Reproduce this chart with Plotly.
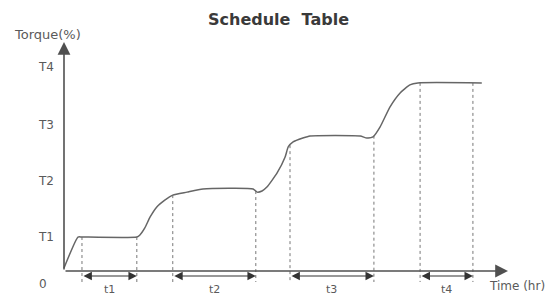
import numpy as np
import plotly.graph_objects as go

# ---- data (time units 0..100 along axis, torque units 0..100 along axis) ----
curve_time = [0, 3.15, 4.05, 16.4, 17.1, 18.2, 19.4, 20.9, 22.7, 24.5, 27.7, 31.3,
              42.6, 43.5, 44.6, 45.7, 48.0, 49.8, 50.5, 51.6, 53.8, 55.4, 66.7,
              68.2, 69.6, 71.2, 73.4, 75.7, 77.9, 79.7, 94.1]
curve_torque = [1.3, 14.9, 14.9, 14.9, 15.8, 18.9, 23.7, 28.1, 31.1, 33.3, 34.6, 36.0,
                36.0, 34.6, 35.1, 36.8, 43.0, 50.0, 54.4, 56.6, 58.3, 59.2, 59.2,
                58.3, 58.8, 63.2, 71.9, 78.1, 81.6, 82.5, 82.5]
interval_names = ["t1", "t2", "t3", "t4"]
interval_start = [4.05, 24.5, 50.9, 80.2]
interval_end = [16.4, 43.2, 69.8, 92.1]
torque_ticks = [14.9, 39.5, 64.0, 89.5]
torque_labels = ["T1", "T2", "T3", "T4"]

# ---- pixel mapping (page pixels; the page body adds an 8px margin) ----
OFF = 8
W, H = 555 - OFF, 296 - OFF
X0, XPX = 64, 4.44   # page px of time 0, px per unit
Y0, YPX = 271, 2.28  # page px of torque 0, px per unit
xr = [(OFF - X0) / XPX, (555 - X0) / XPX]
yr = [(Y0 - 296) / YPX, (Y0 - OFF) / YPX]

def px_x(p):
    return (p - X0) / XPX

def px_y(p):
    return (Y0 - p) / YPX

GRAY = "#505050"
TXT = "#5a5a5a"
FONT = "DejaVu Sans"

fig = go.Figure()

# dotted verticals
for s, e in zip(interval_start, interval_end):
    for xv in (s, e):
        top = float(np.interp(xv, curve_time, curve_torque))
        fig.add_trace(go.Scatter(x=[xv, xv], y=[top, px_y(282)], mode="lines",
                                 line=dict(color="#777777", width=1, dash="dot"),
                                 hoverinfo="skip", showlegend=False))

# curve
fig.add_trace(go.Scatter(x=curve_time, y=curve_torque, mode="lines",
                         line=dict(color="#666666", width=1.5, shape="spline", smoothing=0.5),
                         hoverinfo="skip", showlegend=False))

ann = []
# axes arrows
ann.append(dict(x=px_x(508), y=0, ax=0, ay=0, xref="x", yref="y", axref="x", ayref="y",
                text="", showarrow=True, arrowhead=2, arrowsize=1.6, arrowwidth=1.6,
                arrowcolor=GRAY))
ann.append(dict(x=0, y=px_y(42), ax=0, ay=0, xref="x", yref="y", axref="x", ayref="y",
                text="", showarrow=True, arrowhead=2, arrowsize=1.6, arrowwidth=1.6,
                arrowcolor=GRAY))
# interval arrows and labels
for name, s, e in zip(interval_names, interval_start, interval_end):
    ann.append(dict(x=e, y=px_y(276), ax=s, ay=px_y(276), xref="x", yref="y",
                    axref="x", ayref="y", text="", showarrow=True, arrowside="end+start",
                    arrowhead=2, startarrowhead=2, arrowsize=1.4, startarrowsize=1.4,
                    arrowwidth=1.2, arrowcolor="#333333"))
    ann.append(dict(x=(s + e) / 2, y=px_y(289), xref="x", yref="y", text=name,
                    showarrow=False, font=dict(size=11, color=TXT, family=FONT),
                    xanchor="center", yanchor="middle"))
# y tick labels
for v, lab in zip(torque_ticks, torque_labels):
    ann.append(dict(x=px_x(56), y=v, xref="x", yref="y", text=lab, showarrow=False,
                    font=dict(size=12, color=TXT, family=FONT),
                    xanchor="right", yanchor="middle"))
ann.append(dict(x=px_x(43), y=px_y(284), xref="x", yref="y", text="0", showarrow=False,
                font=dict(size=12, color=TXT, family=FONT),
                xanchor="center", yanchor="middle"))
# axis titles
ann.append(dict(x=px_x(12), y=px_y(34), xref="x", yref="y", text="Torque(%)",
                showarrow=False, font=dict(size=13, color=TXT, family=FONT),
                xanchor="left", yanchor="middle"))
ann.append(dict(x=px_x(487), y=px_y(286), xref="x", yref="y", text="Time (hr)",
                showarrow=False, font=dict(size=12, color=TXT, family=FONT),
                xanchor="left", yanchor="middle"))
# title
ann.append(dict(x=px_x(278), y=px_y(19), xref="x", yref="y",
                text="<b>Schedule\u00a0\u00a0Table</b>",
                showarrow=False, font=dict(size=16, color="#3a3a3a", family=FONT),
                xanchor="center", yanchor="middle"))

fig.update_layout(
    width=W, height=H, margin=dict(l=0, r=0, t=0, b=0),
    paper_bgcolor="white", plot_bgcolor="white",
    xaxis=dict(range=xr, visible=False, fixedrange=True),
    yaxis=dict(range=yr, visible=False, fixedrange=True),
    annotations=ann, showlegend=False,
)
fig.write_html("out.html")
